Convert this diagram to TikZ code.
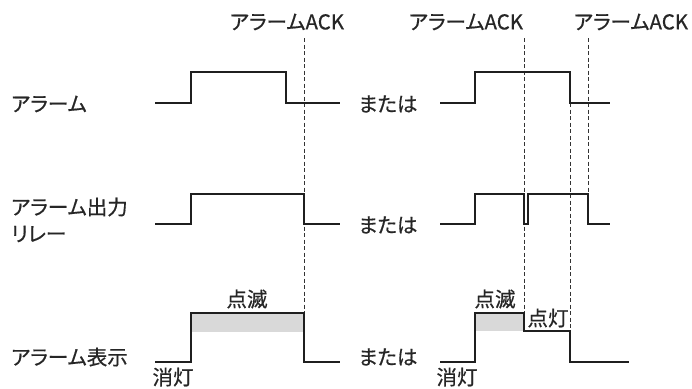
\documentclass[tikz,border=0pt]{standalone}
\usepackage{fontspec}
\setmainfont{Noto Sans CJK JP}[RawFeature=+palt,FakeBold=0.6]
\begin{document}
\begin{tikzpicture}[x=1pt,y=-1pt,
  sig/.style={line width=2.9pt,line join=miter,color=black!88},
  ack/.style={line width=0.9pt,dash pattern=on 4pt off 2.5pt,color=black!80},
  lbl/.style={inner sep=0pt,font=\fontsize{20.5}{23}\selectfont,color=black!85},
  fillgray/.style={fill=black!15,draw=none}]
\useasboundingbox (0,0) rectangle (692,388);
% gray fills
\fill[fillgray] (192,313) rectangle (303,332);
\fill[fillgray] (476,313) rectangle (523,331);
% dashed ACK lines
\draw[ack] (304,38) -- (304,313);
\draw[ack] (524,38) -- (524,313);
\draw[ack] (570,103) -- (570,331);
\draw[ack] (588,38) -- (588,194);
% left signals
\draw[sig] (155,103) -- (191,103) -- (191,72) -- (286,72) -- (286,103) -- (340,103);
\draw[sig] (155,224) -- (191,224) -- (191,194) -- (304,194) -- (304,224) -- (340,224);
\draw[sig] (155,362) -- (191,362) -- (191,313) -- (304,313) -- (304,362) -- (340,362);
% right signals
\draw[sig] (440,103) -- (475,103) -- (475,72) -- (570,72) -- (570,103) -- (610,103);
\draw[sig] (440,224) -- (475,224) -- (475,194) -- (524,194) -- (524,224) -- (528,224) -- (528,194) -- (588,194) -- (588,224) -- (610,224);
\draw[sig] (440,362) -- (475,362) -- (475,313) -- (524,313) -- (524,331) -- (570,331) -- (570,362) -- (629,362);
% labels
\node[lbl,anchor=west] (l1) at (11,104) {アラーム};
\node[lbl,anchor=west] (l2a) at (11,207) {アラーム出力};
\node[lbl,anchor=west] (l2b) at (11,234) {リレー};
\node[lbl,anchor=west] (l3) at (11,357) {アラーム表示};
\node[lbl] (o1) at (388,104) {または};
\node[lbl] (o2) at (388,225) {または};
\node[lbl] (o3) at (388,357) {または};
\node[lbl] (a1) at (287,22) {アラームACK};
\node[lbl] (a2) at (466,22) {アラームACK};
\node[lbl] (a3) at (631,22) {アラームACK};
\node[lbl] (b1) at (247,299) {点滅};
\node[lbl] (b2) at (495,299) {点滅};
\node[lbl] (c2) at (548,318) {点灯};
\node[lbl] (d1) at (173,377) {消灯};
\node[lbl] (d2) at (457,377) {消灯};
\end{tikzpicture}
\end{document}
